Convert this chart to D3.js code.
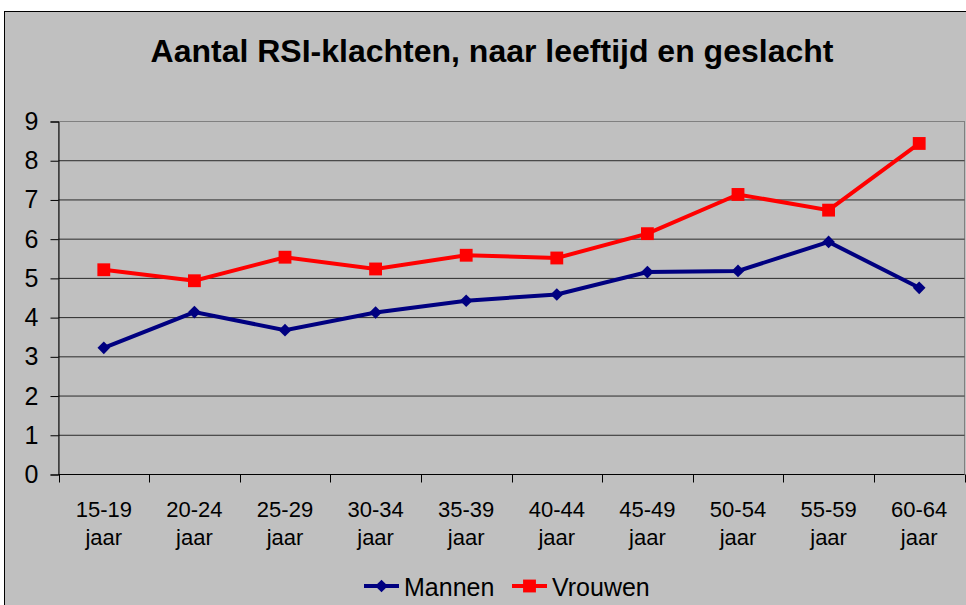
<!DOCTYPE html>
<html>
<head>
<meta charset="utf-8">
<script src="https://cdn.jsdelivr.net/npm/d3@7"></script>
<style>
  body { margin: 0; background: #fff; }
  svg { display: block; font-family: "Liberation Sans", Arial, sans-serif; }
</style>
</head>
<body>
<div id="chart"></div>
<script>
const title = "Aantal RSI-klachten, naar leeftijd en geslacht";
const ageGroups = ["15-19", "20-24", "25-29", "30-34", "35-39", "40-44", "45-49", "50-54", "55-59", "60-64"];
const mannen = [3.23, 4.14, 3.68, 4.13, 4.43, 4.59, 5.16, 5.19, 5.93, 4.76];
const vrouwen = [5.22, 4.94, 5.54, 5.24, 5.59, 5.52, 6.14, 7.14, 6.74, 8.44];
const yTicks = [0, 1, 2, 3, 4, 5, 6, 7, 8, 9];

const width = 966;
const height = 605;

const svg = d3.select("#chart")
  .append("svg")
  .attr("width", width)
  .attr("height", height);

// chart area background + border
svg.append("rect")
  .attr("x", 4.5).attr("y", 11.5)
  .attr("width", width + 10).attr("height", height + 10)
  .attr("fill", "#c0c0c0")
  .attr("stroke", "#000");

const x = d3.scaleBand().domain(ageGroups).range([58.5, 964.5]);
const y = d3.scaleLinear().domain([0, 9]).range([474.5, 121.5]);

// plot border
svg.append("rect")
  .attr("x", 58.5).attr("y", y(9))
  .attr("width", 964.5 - 58.5).attr("height", y(0) - y(9))
  .attr("fill", "none")
  .attr("stroke", "#808080");

// gridlines
svg.append("g")
  .selectAll("line")
  .data(yTicks.filter(d => d > 0 && d < 9))
  .join("line")
  .attr("x1", 58.5).attr("x2", 964.5)
  .attr("y1", d => y(d)).attr("y2", d => y(d))
  .attr("stroke", "#2a2a2a");

// y axis
const yAxis = svg.append("g")
  .attr("transform", "translate(58.5,0)")
  .call(d3.axisLeft(y).tickValues(yTicks).tickSize(8).tickPadding(12).tickFormat(d3.format("d")));
yAxis.select(".domain").attr("stroke", "#000");
yAxis.selectAll(".tick line").attr("stroke", "#000");
yAxis.selectAll(".tick text")
  .attr("font-size", 25)
  .attr("font-family", "Liberation Sans, Arial, sans-serif")
  .attr("fill", "#000");

// x axis (ticks at category boundaries)
const boundaries = ageGroups.map(d => x(d)).concat([x.range()[1]]);
svg.append("line")
  .attr("x1", 58.5).attr("x2", 964.5)
  .attr("y1", y(0)).attr("y2", y(0))
  .attr("stroke", "#000");
svg.append("g")
  .selectAll("line")
  .data(boundaries)
  .join("line")
  .attr("x1", d => Math.round(d) + 0.5).attr("x2", d => Math.round(d) + 0.5)
  .attr("y1", y(0)).attr("y2", y(0) + 8)
  .attr("stroke", "#000");

const xLabels = svg.append("g")
  .selectAll("text")
  .data(ageGroups)
  .join("text")
  .attr("x", d => x(d) + x.bandwidth() / 2)
  .attr("y", 517)
  .attr("text-anchor", "middle")
  .attr("font-size", 22)
  .attr("fill", "#000");
xLabels.append("tspan").text(d => d);
xLabels.append("tspan")
  .attr("x", d => x(d) + x.bandwidth() / 2)
  .attr("dy", 28)
  .text("jaar");

// title
svg.append("text")
  .attr("x", 492)
  .attr("y", 62)
  .attr("text-anchor", "middle")
  .attr("font-size", 32)
  .attr("font-weight", "bold")
  .attr("fill", "#000")
  .text(title);

const line = d3.line()
  .x((d, i) => x(ageGroups[i]) + x.bandwidth() / 2)
  .y(d => y(d));

// diamond = square turned 45 degrees
const diamond = d3.symbol().type(d3.symbolSquare).size(80);
const square = d3.symbol().type(d3.symbolSquare).size(165);

function drawSeries(values, color, symbol, rot) {
  svg.append("path")
    .datum(values)
    .attr("d", line)
    .attr("fill", "none")
    .attr("stroke", color)
    .attr("stroke-width", 4)
    .attr("stroke-linejoin", "miter");
  svg.append("g")
    .selectAll("path")
    .data(values)
    .join("path")
    .attr("transform", (d, i) => `translate(${x(ageGroups[i]) + x.bandwidth() / 2},${y(d)}) rotate(${rot})`)
    .attr("d", symbol)
    .attr("fill", color);
}

drawSeries(mannen, "#000080", diamond, 45);
drawSeries(vrouwen, "#ff0000", square, 0);

// legend
const legendItems = [
  { name: "Mannen", color: "#000080", symbol: diamond, rot: 45, x: 364 },
  { name: "Vrouwen", color: "#ff0000", symbol: square, rot: 0, x: 512 }
];
const legend = svg.append("g")
  .selectAll("g")
  .data(legendItems)
  .join("g")
  .attr("transform", d => `translate(${d.x},586)`);
legend.append("line")
  .attr("x1", 0).attr("x2", 35)
  .attr("stroke", d => d.color)
  .attr("stroke-width", 4);
legend.append("path")
  .attr("transform", d => `translate(17.5,0) rotate(${d.rot})`)
  .attr("d", d => d.symbol())
  .attr("fill", d => d.color);
legend.append("text")
  .attr("x", 40)
  .attr("y", 9.5)
  .attr("font-size", 25)
  .attr("fill", "#000")
  .text(d => d.name);
</script>
</body>
</html>
